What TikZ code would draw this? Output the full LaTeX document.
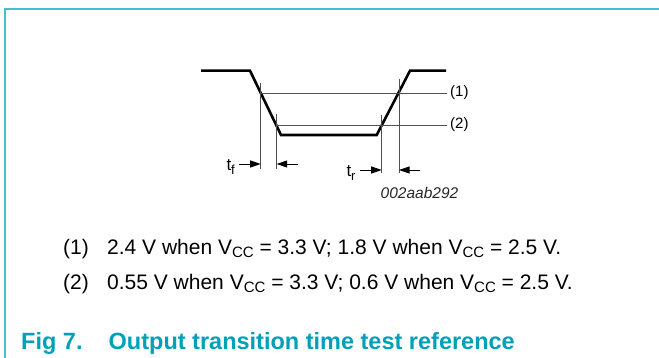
\documentclass[tikz,border=0pt]{standalone}
\usepackage{fontspec}
\setmainfont{Liberation Sans}
\usetikzlibrary{arrows.meta}
\definecolor{frame}{RGB}{70,190,205}
\definecolor{titlec}{RGB}{0,160,185}
\definecolor{thin}{RGB}{80,80,80}
\newcommand{\Vcc}{V\raisebox{-3pt}{\fontsize{15}{17}\selectfont CC}}
\begin{document}
\begin{tikzpicture}[x=1pt,y=-1pt,
  wave/.style={line width=2.6pt,line join=miter,line cap=butt},
  level/.style={line width=0.9pt,draw=thin},
  marker/.style={line width=0.9pt,draw=thin},
  arr/.style={line width=0.9pt,-{Triangle[length=10.5pt,width=7pt]}},
  lab/.style={inner sep=0pt,font=\fontsize{15}{18}\selectfont},
  tlab/.style={inner sep=0pt,anchor=base west,font=\fontsize{17}{20}\selectfont},
  body/.style={inner sep=0pt,anchor=base west,font=\fontsize{21}{25}\selectfont},
  ttl/.style={inner sep=0pt,anchor=base west,text=titlec,font=\fontsize{23.5}{27}\selectfont\bfseries}]
\useasboundingbox (0,0) rectangle (659,358);
% frame
\coordinate (fTL) at (5,9);
\coordinate (fTR) at (659,9);
\coordinate (fBL) at (5,358);
\draw[frame,line width=2pt] (fBL) -- (fTL) -- (fTR);
% waveform
\coordinate (w1) at (201,70.7);
\coordinate (w2) at (250,70.7);
\coordinate (w3) at (281,135);
\coordinate (w4) at (376.7,135);
\coordinate (w5) at (410,70.7);
\coordinate (w6) at (446,70.7);
\draw[wave] (w1) -- (w2) -- (w3) -- (w4) -- (w5) -- (w6);
% levels
\coordinate (l1a) at (261,93);
\coordinate (l1b) at (446.7,93);
\coordinate (l2a) at (277,125);
\coordinate (l2b) at (446.7,125);
\draw[level] (l1a) -- (l1b);
\draw[level] (l2a) -- (l2b);
\node[lab,anchor=west] (n1) at (450,93) {(1)};
\node[lab,anchor=west] (n2) at (450,125) {(2)};
% markers
\coordinate (v1t) at (260.7,82.7);
\coordinate (v1b) at (260.7,169.5);
\coordinate (v2t) at (276.7,114.3);
\coordinate (v2b) at (276.7,169.5);
\coordinate (v3t) at (381.7,115);
\coordinate (v3b) at (381.7,173.5);
\coordinate (v4t) at (399,79);
\coordinate (v4b) at (399,173.5);
\draw[marker] (v1t) -- (v1b);
\draw[marker] (v2t) -- (v2b);
\draw[marker] (v3t) -- (v3b);
\draw[marker] (v4t) -- (v4b);
% arrows
\coordinate (a1s) at (239.3,164);
\coordinate (a1e) at (260.7,164);
\coordinate (a2s) at (298.3,164);
\coordinate (a2e) at (276.7,164);
\coordinate (a3s) at (360,170);
\coordinate (a3e) at (381.7,170);
\coordinate (a4s) at (420,170);
\coordinate (a4e) at (399,170);
\draw[arr] (a1s) -- (a1e);
\draw[arr] (a2s) -- (a2e);
\draw[arr] (a3s) -- (a3e);
\draw[arr] (a4s) -- (a4e);
\node[tlab] (tf) at (226.3,170.5) {t\raisebox{-4.5pt}{\fontsize{13}{15}\selectfont f}};
\node[tlab] (tr) at (346.3,176.3) {t\raisebox{-4.5pt}{\fontsize{13}{15}\selectfont r}};
\node[lab,anchor=base,text=black!85,font=\fontsize{15.5}{18}\selectfont\itshape] (id) at (419.5,199) {002aab292};
% legend
\node[body] (k1) at (63,254.7) {(1)};
\node[body] (t1) at (107,254.7) {2.4 V when \Vcc{} = 3.3 V; 1.8 V when \Vcc{} = 2.5 V.};
\node[body] (k2) at (63,289.7) {(2)};
\node[body] (t2) at (107,289.7) {0.55 V when \Vcc{} = 3.3 V; 0.6 V when \Vcc{} = 2.5 V.};
% title
\node[ttl] (fig) at (21,349.3) {Fig 7.};
\node[ttl] (cap) at (108.5,349.3) {Output transition time test reference};
\end{tikzpicture}
\end{document}
